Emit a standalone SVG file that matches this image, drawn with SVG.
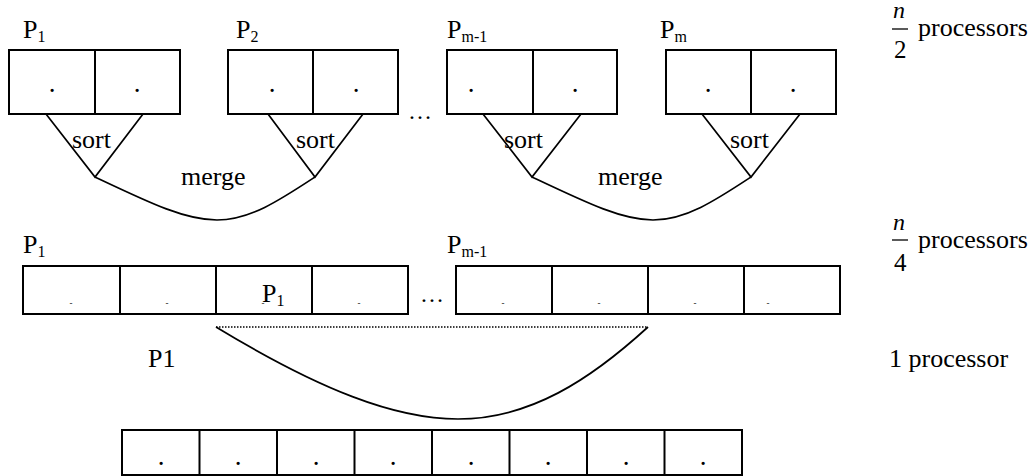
<svg xmlns="http://www.w3.org/2000/svg" width="1032" height="476" viewBox="0 0 1032 476">
<style>
text{font-family:"Liberation Serif","Times New Roman",serif;fill:#000}
.lbl{font-size:26px}
.sub{font-size:16px}
.t{font-size:26px}
.dot{font-size:27px;text-anchor:middle}
.dash{font-size:9px;text-anchor:middle}
.box{fill:#fff;stroke:#000;stroke-width:2}
.ln{fill:none;stroke:#000;stroke-width:1.7}
.dv{stroke:#000;stroke-width:2}
</style>
<rect width="1032" height="476" fill="#fff"/>

<!-- top row -->
<g id="p1-top">
<text class="lbl" x="23" y="38">P<tspan class="sub" dy="4">1</tspan></text>
<rect class="box" x="9" y="50" width="171" height="64"/>
<line class="dv" x1="95" y1="50" x2="95" y2="114"/>
<text class="dot" x="52" y="92">.</text><text class="dot" x="137" y="92">.</text>
</g>
<g id="p2-top">
<text class="lbl" x="236" y="38">P<tspan class="sub" dy="4">2</tspan></text>
<rect class="box" x="228" y="50" width="170" height="64"/>
<line class="dv" x1="313" y1="50" x2="313" y2="114"/>
<text class="dot" x="272" y="92">.</text><text class="dot" x="356" y="92">.</text>
</g>
<text x="408" y="119" style="font-size:24px">…</text>
<g id="pm1-top">
<text class="lbl" x="447" y="38">P<tspan class="sub" dy="4">m-1</tspan></text>
<rect class="box" x="447" y="50" width="170" height="64"/>
<line class="dv" x1="533" y1="50" x2="533" y2="114"/>
<text class="dot" x="471" y="92">.</text><text class="dot" x="575" y="92">.</text>
</g>
<g id="pm-top">
<text class="lbl" x="660" y="38">P<tspan class="sub" dy="4">m</tspan></text>
<rect class="box" x="666" y="50" width="170" height="64"/>
<line class="dv" x1="751" y1="50" x2="751" y2="114"/>
<text class="dot" x="708" y="92">.</text><text class="dot" x="793" y="92">.</text>
</g>

<g id="label-n2">
<text x="893" y="18" style="font-size:24px;font-style:italic">n</text>
<line x1="892" y1="29" x2="908" y2="29" stroke="#000" stroke-width="1.3"/>
<text x="894" y="58" style="font-size:25px">2</text>
<text class="t" x="918" y="36">processors</text>
</g>

<!-- connectors -->
<g id="connectors">
<polyline class="ln" points="46,114 95,177 143,114"/>
<polyline class="ln" points="268,114 315,177 363,114"/>
<polyline class="ln" points="483,114 532,177 581,114"/>
<polyline class="ln" points="702,114 751,177 800,114"/>
<path class="ln" d="M95,177 C150,203 185,220 217,220 C250,220 280,200 315,177"/>
<path class="ln" d="M532,177 C587,203 622,220 653,220 C686,220 716,200 751,177"/>
<line x1="216" y1="327" x2="648" y2="327" stroke="#000" stroke-width="1.5" stroke-dasharray="1.5,1.5"/>
<path class="ln" d="M216,327 C320,390 395,419 458,419 C530,419 590,380 648,327"/>
</g>
<text class="t" x="72" y="148">sort</text>
<text class="t" x="296" y="148">sort</text>
<text class="t" x="504" y="148">sort</text>
<text class="t" x="730" y="148">sort</text>
<text class="t" x="181" y="185">merge</text>
<text class="t" x="598" y="185">merge</text>

<!-- second row -->
<g id="p1-mid">
<text class="lbl" x="23" y="253">P<tspan class="sub" dy="4">1</tspan></text>
<rect class="box" x="23" y="266" width="385" height="48"/>
<line class="dv" x1="120" y1="266" x2="120" y2="314"/>
<line class="dv" x1="216" y1="266" x2="216" y2="314"/>
<line class="dv" x1="312" y1="266" x2="312" y2="314"/>
<text class="dash" x="71" y="306">-</text>
<text class="dash" x="167" y="306">-</text>
<text class="dash" x="263" y="306">-</text>
<text class="dash" x="359" y="306">-</text>
<text class="lbl" x="262" y="302">P<tspan class="sub" dy="4">1</tspan></text>
</g>
<text x="420" y="302" style="font-size:24px">…</text>
<g id="pm1-mid">
<text class="lbl" x="447" y="253">P<tspan class="sub" dy="4">m-1</tspan></text>
<rect class="box" x="456" y="266" width="384" height="48"/>
<line class="dv" x1="552" y1="266" x2="552" y2="314"/>
<line class="dv" x1="648" y1="266" x2="648" y2="314"/>
<line class="dv" x1="744" y1="266" x2="744" y2="314"/>
<text class="dash" x="503" y="306">-</text>
<text class="dash" x="599" y="306">-</text>
<text class="dash" x="695" y="306">-</text>
<text class="dash" x="768" y="306">-</text>
</g>
<g id="label-n4">
<text x="893" y="230" style="font-size:24px;font-style:italic">n</text>
<line x1="892" y1="240" x2="908" y2="240" stroke="#000" stroke-width="1.3"/>
<text x="894" y="271" style="font-size:25px">4</text>
<text class="t" x="918" y="248">processors</text>
</g>

<!-- bottom row -->
<g id="p1-bottom">
<text class="t" x="148" y="367">P1</text>
<rect class="box" x="122" y="430" width="620" height="45"/>
<line class="dv" x1="199.5" y1="430" x2="199.5" y2="475"/>
<line class="dv" x1="277" y1="430" x2="277" y2="475"/>
<line class="dv" x1="354.5" y1="430" x2="354.5" y2="475"/>
<line class="dv" x1="432" y1="430" x2="432" y2="475"/>
<line class="dv" x1="509.5" y1="430" x2="509.5" y2="475"/>
<line class="dv" x1="587" y1="430" x2="587" y2="475"/>
<line class="dv" x1="664.5" y1="430" x2="664.5" y2="475"/>
<text class="dot" x="161" y="465">.</text>
<text class="dot" x="238" y="465">.</text>
<text class="dot" x="316" y="465">.</text>
<text class="dot" x="393" y="465">.</text>
<text class="dot" x="471" y="465">.</text>
<text class="dot" x="548" y="465">.</text>
<text class="dot" x="626" y="465">.</text>
<text class="dot" x="703" y="465">.</text>
</g>
<text class="t" x="889" y="367">1 processor</text>
</svg>
